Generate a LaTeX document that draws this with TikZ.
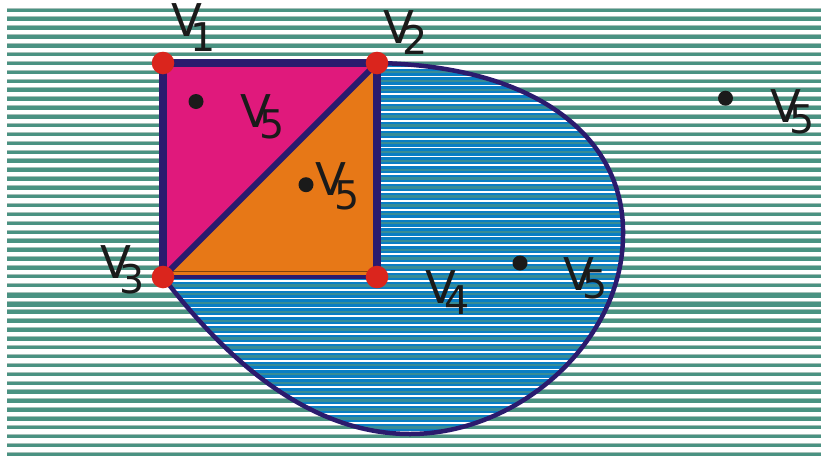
\documentclass[tikz,border=0pt]{standalone}
\usepackage{fontspec}
\setmainfont{DejaVu Sans}
\usetikzlibrary{positioning}
\definecolor{hatchteal}{RGB}{74,146,130}
\definecolor{hatchedge}{RGB}{165,192,184}
\definecolor{blobblue}{RGB}{10,126,196}
\definecolor{edgenavy}{RGB}{43,27,110}
\definecolor{sqmagenta}{RGB}{224,25,124}
\definecolor{sqorange}{RGB}{231,120,23}
\definecolor{dotred}{RGB}{218,37,29}
\definecolor{dotblack}{RGB}{26,26,26}
% V with a lowered digit; #2 is how far the digit drops
\newcommand{\vlab}[2]{V\kern-6.5pt\raisebox{-#2}{\fontsize{22.5}{26}\selectfont #1}}

\begin{document}
\begin{tikzpicture}[x=0.02cm, y=-0.02cm,
  vertex/.style={circle, fill=dotred, inner sep=0pt, minimum size=0.452cm},
  point/.style={circle, fill=dotblack, inner sep=0pt, minimum size=0.30cm},
  vname/.style={font=\fontsize{25.7}{30}\selectfont, text=dotblack,
    anchor=base west, inner sep=0pt}]
  \useasboundingbox (0,0) rectangle (821,457);

  % background hatching
  \foreach \k in {0,...,33}
  {
    \draw[hatchteal, line width=0.08cm] (7,{10+8.88*\k}) -- (821,{10+8.88*\k});
    \draw[hatchedge, line width=0.02cm] (7,{8+8.88*\k}) -- (821,{8+8.88*\k});
  }
  \foreach \yy in {297,306}
    \draw[hatchteal, line width=0.045cm] (7,\yy) -- (821,\yy);
  \foreach \k in {0,...,16}
  {
    \draw[hatchteal, line width=0.08cm] (7,{311.9+8.89*\k}) -- (821,{311.9+8.89*\k});
    \draw[hatchedge, line width=0.02cm] (7,{309.9+8.89*\k}) -- (821,{309.9+8.89*\k});
  }

  \coordinate (v1) at (163,63);
  \coordinate (v2) at (377,63);
  \coordinate (v3) at (163,277);
  \coordinate (v4) at (377,277);

  % the blob
  \begin{scope}
    \path[clip] (v2) .. controls (540,66) and (625,140) .. (623,235)
      .. controls (623,340) and (520,434) .. (410,434)
      .. controls (300,434) and (215,345) .. (v3) -- cycle;
    \fill[blobblue] (150,50) rectangle (640,450);
    \foreach \k in {5,...,50}
    {
      \draw[hatchteal!70!blobblue, line width=0.05cm] (150,{10+8.88*\k}) -- (640,{10+8.88*\k});
      \draw[white, line width=0.035cm] (150,{14.4+8.88*\k}) -- (640,{14.4+8.88*\k});
    }
  \end{scope}
  \draw[edgenavy, line width=0.09cm] (v2) .. controls (540,66) and (625,140) .. (623,235)
      .. controls (623,340) and (520,434) .. (410,434)
      .. controls (300,434) and (215,345) .. (v3);

  % the square
  \fill[sqmagenta] (v1) -- (v2) -- (v3) -- cycle;
  \fill[sqorange] (v2) -- (v4) -- (v3) -- cycle;
  \draw[sqorange!55!black, line width=0.02cm] (167,271.7) -- (373,271.7);
  \draw[edgenavy, line width=0.08cm, yshift=-0.05cm] (v3) -- (v4);
  \draw[edgenavy, line width=0.16cm] (v3) -- (v1) -- (v2) -- (v4);
  \draw[edgenavy, line width=0.12cm] (v3) -- (v2);

  \foreach \i in {1,...,4}
    \node[vertex] (r\i) at (v\i) {};

  \node[point] (p1) at (196,101.5) {};
  \node[point] (p2) at (306,184.7) {};
  \node[point] (p3) at (520,263) {};
  \node[point] (p4) at (725.5,98.2) {};

  \node[vname] (n1) at (171,36) {\vlab{1}{9pt}};
  \node[vname] (n2) at (383,43) {\vlab{2}{6.6pt}};
  \node[vname] (n3) at (100,278) {\vlab{3}{9pt}};
  \node[vname] (n4) at (425,303) {\vlab{4}{6.6pt}};
  \node[vname] (n5) at (240,127) {\vlab{5}{6.6pt}};
  \node[vname] (n6) at (315,195) {\vlab{5}{8.5pt}};
  \node[vname] (n7) at (563,290) {\vlab{5}{5pt}};
  \node[vname] (n8) at (770,122) {\vlab{5}{6.6pt}};
\end{tikzpicture}
\end{document}
